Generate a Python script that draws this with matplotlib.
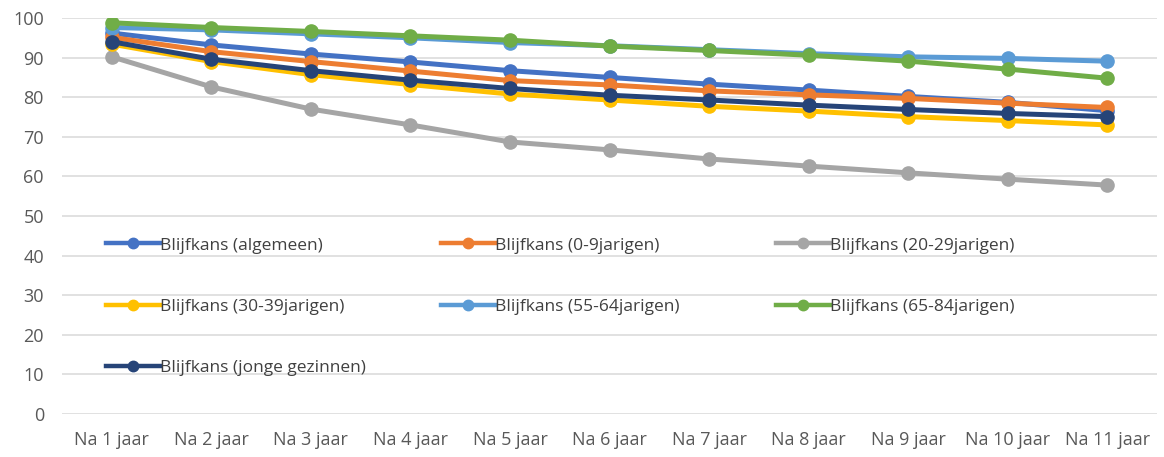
"""Blijfkans per leeftijdsgroep, recreated as a line chart."""

import matplotlib

matplotlib.use("Agg")
from matplotlib import pyplot as plt
from matplotlib.lines import Line2D

plt.rcParams["font.family"] = ["Open Sans", "DejaVu Sans"]

categories = [f"Na {i} jaar" for i in range(1, 12)]

algemeen = [96.2, 93.2, 90.9, 88.9, 86.7, 85.0, 83.3, 81.8, 80.2, 78.7, 76.6]
jarigen_0_9 = [95.1, 91.5, 89.0, 86.6, 84.2, 83.1, 81.6, 80.6, 79.7, 78.5, 77.4]
jarigen_20_29 = [90.2, 82.6, 77.0, 73.0, 68.7, 66.7, 64.4, 62.6, 60.9, 59.3, 57.8]
jarigen_30_39 = [93.4, 89.0, 85.7, 83.2, 80.8, 79.3, 77.7, 76.5, 75.1, 74.1, 73.0]
jarigen_55_64 = [97.6, 97.0, 96.0, 95.0, 93.8, 93.0, 92.0, 91.0, 90.2, 89.8, 89.1]
jarigen_65_84 = [98.8, 97.6, 96.6, 95.5, 94.4, 92.9, 91.8, 90.6, 89.1, 87.1, 84.8]
jonge_gezinnen = [94.0, 89.6, 86.7, 84.3, 82.2, 80.5, 79.3, 78.0, 76.9, 75.9, 75.1]

series = [
    ("Blijfkans (algemeen)", algemeen, "#4472C4"),
    ("Blijfkans (0-9jarigen)", jarigen_0_9, "#ED7D31"),
    ("Blijfkans (20-29jarigen)", jarigen_20_29, "#A5A5A5"),
    ("Blijfkans (30-39jarigen)", jarigen_30_39, "#FFC000"),
    ("Blijfkans (55-64jarigen)", jarigen_55_64, "#5B9BD5"),
    ("Blijfkans (65-84jarigen)", jarigen_65_84, "#70AD47"),
    ("Blijfkans (jonge gezinnen)", jonge_gezinnen, "#264478"),
]

# legend columns as Excel lays them out (fixed column starts)
legend_columns = [[0, 3, 6], [1, 4], [2, 5]]


def main() -> None:
    fig = plt.figure(figsize=(11.64, 4.57), dpi=100)
    ax = fig.add_axes([0.0533, 0.0941, 0.9407, 0.8665])

    x = range(len(categories))
    handles = []
    for label, values, color in series:
        ax.plot(x, values, color=color, linewidth=3.6, marker="o",
                markersize=9.5, solid_capstyle="round")
        handles.append(Line2D([], [], color=color, linewidth=3.2, marker="o",
                              markersize=7.5, label=label))

    ax.set_xlim(-0.5, len(categories) - 0.5)
    ax.set_ylim(0, 100)
    ax.set_yticks(range(0, 101, 10))
    ax.set_xticks(list(x))
    ax.set_xticklabels(categories)
    ax.tick_params(length=0, labelsize=13, labelcolor="#595959")
    ax.tick_params(axis="x", pad=12)
    ax.tick_params(axis="y", pad=13)
    ax.grid(axis="y", color="#D9D9D9", linewidth=1.1)
    ax.set_axisbelow(True)
    for spine in ax.spines.values():
        spine.set_visible(False)

    col_x = [0.0325, 0.3385, 0.6445]
    for n, (cx, idx) in enumerate(zip(col_x, legend_columns)):
        leg = ax.legend(
            handles=[handles[i] for i in idx],
            loc="upper left",
            bbox_to_anchor=(cx, 0.468),
            frameon=False,
            fontsize=12.5,
            handlelength=3.1,
            handletextpad=0.0,
            labelspacing=2.6,
            borderpad=0,
            labelcolor="#404040",
        )
        if n < len(col_x) - 1:
            ax.add_artist(leg)

    fig.savefig("out.png", dpi=100)
    plt.close(fig)


if __name__ == "__main__":
    main()
